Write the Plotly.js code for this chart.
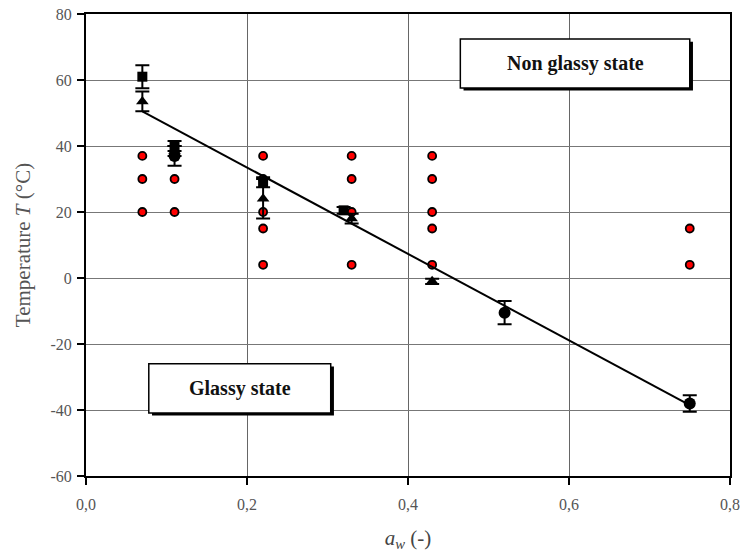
<!DOCTYPE html>
<html><head><meta charset="utf-8">
<script src="https://cdn.plot.ly/plotly-3.0.1.min.js"></script>
<style>html,body{margin:0;padding:0;background:#fff}</style>
</head><body><div id="chart" style="width:741px;height:559px"></div>
<script>
// Squares
const sqX = [0.07, 0.11, 0.22, 0.32];
const sqY = [61, 40, 29, 20.5];
const sqErr = [3.5, 1.5, 1.5, 1];
// Triangles
const trX = [0.07, 0.11, 0.22, 0.33, 0.43];
const trY = [53.5, 38.5, 24, 18, -1];
const trErr = [3, 1.5, 6, 1.5, 0.8];
// Black circles
const ciX = [0.11, 0.52, 0.75];
const ciY = [37, -10.5, -38];
const ciErr = [3, 3.5, 2.5];
// Red experimental points
const redX = [0.07,0.07,0.07, 0.11,0.11,0.11, 0.22,0.22,0.22,0.22,0.22, 0.33,0.33,0.33,0.33, 0.43,0.43,0.43,0.43,0.43, 0.75,0.75];
const redY = [37,30,20, 37,30,20, 37,30,20,15,4, 37,30,20,4, 37,30,20,15,4, 15,4];
// Regression line
const lineX = [0.07, 0.75];
const lineY = [50.5, -38.5];
// Ticks
const xTicks = [0, 0.2, 0.4, 0.6, 0.8];
const xTickLabels = ["0,0", "0,2", "0,4", "0,6", "0,8"];
const yTicks = [-60, -40, -20, 0, 20, 40, 60, 80];
const yTickLabels = ["-60", "-40", "-20", "0", "20", "40", "60", "80"];

const errStyle = (arr) => ({type:'data', array: arr, visible:true, color:'#000', thickness:2, width:7});

const traces = [
  {x: redX, y: redY, mode:'markers', type:'scatter',
   marker:{symbol:'circle', size:8, color:'#ff0000', line:{color:'#000', width:1.8}}},
  {x: lineX, y: lineY, mode:'lines', type:'scatter', line:{color:'#000', width:2}},
  {x: sqX, y: sqY, mode:'markers', type:'scatter', error_y: errStyle(sqErr),
   marker:{symbol:'square', size:10, color:'#000'}},
  {x: trX, y: trY, mode:'markers', type:'scatter', error_y: errStyle(trErr),
   marker:{symbol:'triangle-up', size:11, color:'#000'}},
  {x: ciX, y: ciY, mode:'markers', type:'scatter', error_y: errStyle(ciErr),
   marker:{symbol:'circle', size:12, color:'#000'}}
];

const serif = '"Liberation Serif", "Times New Roman", serif';
const tickFont = {family:serif, color:'#555', size:16};

const layout = {
  width:741, height:559,
  margin:{l:86, r:11, t:14, b:83},
  showlegend:false,
  paper_bgcolor:'#fff', plot_bgcolor:'#fff',
  font: tickFont,
  xaxis:{range:[0,0.8], tickvals:xTicks, ticktext:xTickLabels, ticks:'outside', ticklen:7, tickwidth:2, tickcolor:'#000',
    ticklabelstandoff:6,
    showline:true, linecolor:'#000', linewidth:2, mirror:true, showgrid:true, gridcolor:'#666', gridwidth:1, zeroline:false,
    tickfont:tickFont, automargin:false,
    title:{text:'<i>a</i><sub><i>w</i></sub> (-)', font:{family:serif, size:21, color:'#444'}, standoff:18}},
  yaxis:{range:[-60,80], tickvals:yTicks, ticktext:yTickLabels, ticks:'outside', ticklen:7, tickwidth:2, tickcolor:'#000',
    ticklabelstandoff:2,
    showline:true, linecolor:'#000', linewidth:2, mirror:true, showgrid:true, gridcolor:'#777', gridwidth:1, zeroline:false,
    tickfont:tickFont, automargin:false,
    title:{text:'Temperature <i>T</i> (°C)', font:{family:serif, size:21, color:'#555'}, standoff:14}},
  shapes:[
    {type:'rect', xref:'x', yref:'y', x0:0.469, x1:0.754, y0:56.8, y1:71.6, fillcolor:'#000', line:{width:0}},
    {type:'rect', xref:'x', yref:'y', x0:0.465, x1:0.750, y0:57.6, y1:72.4, fillcolor:'#fff', line:{color:'#000', width:1.5}},
    {type:'rect', xref:'x', yref:'y', x0:0.082, x1:0.308, y0:-41.7, y1:-26.8, fillcolor:'#000', line:{width:0}},
    {type:'rect', xref:'x', yref:'y', x0:0.078, x1:0.304, y0:-40.9, y1:-26, fillcolor:'#fff', line:{color:'#000', width:1.5}}
  ],
  annotations:[
    {xref:'x', yref:'y', x:0.6075, y:65, text:'<b>Non glassy state</b>', showarrow:false,
     font:{family:serif, size:20, color:'#111'}},
    {xref:'x', yref:'y', x:0.191, y:-33.4, text:'<b>Glassy state</b>', showarrow:false,
     font:{family:serif, size:20, color:'#111'}}
  ]
};

Plotly.newPlot('chart', traces, layout, {staticPlot:true, displayModeBar:false});
</script></body></html>
